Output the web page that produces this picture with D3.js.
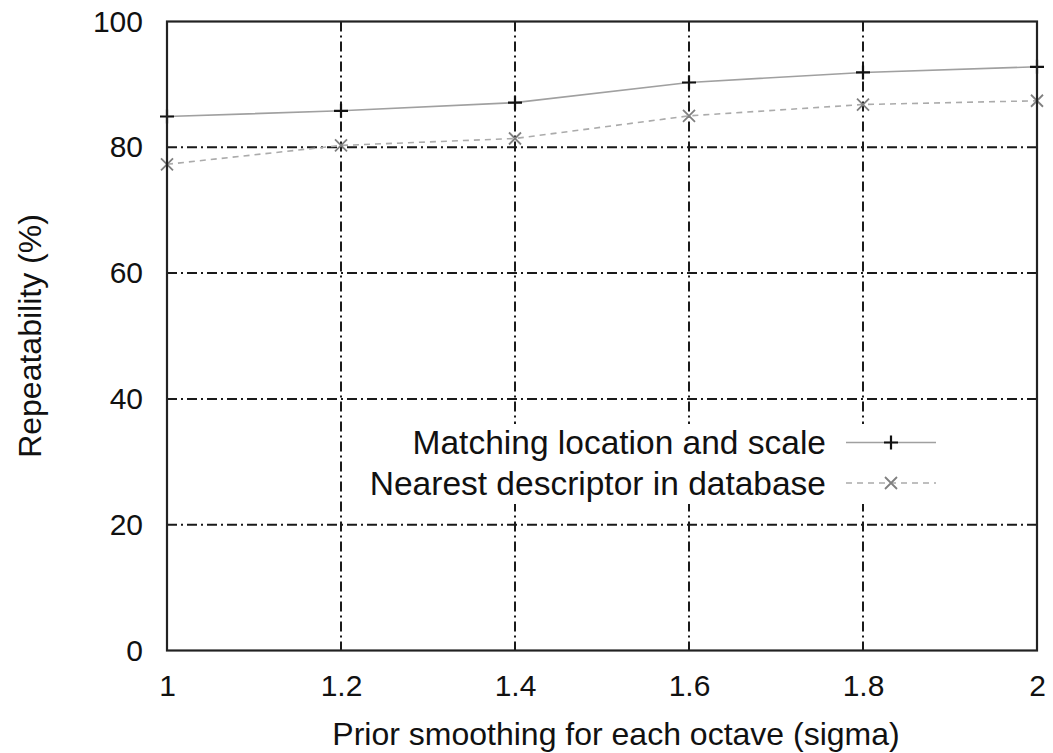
<!DOCTYPE html>
<html>
<head>
<meta charset="utf-8">
<script src="https://cdn.jsdelivr.net/npm/d3@7"></script>
<style>
  body { margin: 0; background: #fff; }
  text { font-family: "Liberation Sans", Arial, sans-serif; fill: #111; }
</style>
</head>
<body>
<div id="chart"></div>
<script>
// values
var sigma = [1, 1.2, 1.4, 1.6, 1.8, 2];
var matchingLocScale = [84.9, 85.8, 87.1, 90.3, 91.9, 92.8];
var nearestDescriptor = [77.3, 80.3, 81.4, 85.0, 86.8, 87.4];
var xTicks = [1, 1.2, 1.4, 1.6, 1.8, 2];
var yTicks = [0, 20, 40, 60, 80, 100];
var seriesNames = ["Matching location and scale", "Nearest descriptor in database"];

var W = 1053, H = 753;
var margin = {top: 21.5, right: 16, bottom: 102.5, left: 167};
var width = W - margin.left - margin.right,
    height = H - margin.top - margin.bottom;

var svg = d3.select("#chart").append("svg")
  .attr("width", W).attr("height", H)
  .append("g")
  .attr("transform", "translate(" + margin.left + "," + margin.top + ")");

var x = d3.scaleLinear().domain([1, 2]).range([0, width]);
var y = d3.scaleLinear().domain([0, 100]).range([height, 0]);

var gridDash = "10,4,2,4";

// grid lines (dash-dot, gnuplot style)
svg.append("g").selectAll("line.vg")
  .data(xTicks.slice(1, -1))
  .enter().append("line")
  .attr("x1", function(d) { return x(d); })
  .attr("x2", function(d) { return x(d); })
  .attr("y1", 0).attr("y2", height)
  .attr("stroke", "#1a1a1a").attr("stroke-width", 2)
  .attr("stroke-dasharray", gridDash);

svg.append("g").selectAll("line.hg")
  .data(yTicks.slice(1, -1))
  .enter().append("line")
  .attr("x1", 0).attr("x2", width)
  .attr("y1", function(d) { return y(d); })
  .attr("y2", function(d) { return y(d); })
  .attr("stroke", "#1a1a1a").attr("stroke-width", 2)
  .attr("stroke-dasharray", gridDash);

// legend box covers grid
var legendRight = 945, legendTop = 424;
svg.append("rect")
  .attr("x", 355 - margin.left).attr("y", legendTop - margin.top)
  .attr("width", legendRight - 355).attr("height", 80)
  .attr("fill", "#fff");

// axes with tick labels
var xAxis = d3.axisBottom(x).tickValues(xTicks).tickSize(0).tickPadding(24)
  .tickFormat(function(d) { return d3.format("~g")(d); });
svg.append("g")
  .attr("transform", "translate(0," + height + ")")
  .call(xAxis)
  .call(function(g) { g.select(".domain").remove(); })
  .selectAll("text")
  .style("font-size", "30px")
  .attr("fill", "#111");

var yAxis = d3.axisLeft(y).tickValues(yTicks).tickSize(0).tickPadding(24);
svg.append("g")
  .call(yAxis)
  .call(function(g) { g.select(".domain").remove(); })
  .selectAll("text")
  .style("font-size", "30px")
  .attr("fill", "#111");

// lines
var line1 = d3.line()
  .x(function(d, i) { return x(sigma[i]); })
  .y(function(d) { return y(d); });

svg.append("path")
  .datum(matchingLocScale)
  .attr("fill", "none")
  .attr("stroke", "#a0a0a0")
  .attr("stroke-width", 1.6)
  .attr("d", line1);

svg.append("path")
  .datum(nearestDescriptor)
  .attr("fill", "none")
  .attr("stroke", "#ababab")
  .attr("stroke-width", 1.6)
  .attr("stroke-dasharray", "6,5")
  .attr("d", line1);

function plusMark(g, cx, cy) {
  g.append("path")
    .attr("d", "M" + (cx - 7) + "," + cy + "H" + (cx + 7) + "M" + cx + "," + (cy - 7) + "V" + (cy + 7))
    .attr("stroke", "#111").attr("stroke-width", 2.2).attr("fill", "none");
}
function crossMark(g, cx, cy) {
  g.append("path")
    .attr("d", "M" + (cx - 6) + "," + (cy - 6) + "L" + (cx + 6) + "," + (cy + 6) +
               "M" + (cx - 6) + "," + (cy + 6) + "L" + (cx + 6) + "," + (cy - 6))
    .attr("stroke", "#808080").attr("stroke-width", 1.8).attr("fill", "none");
}

var marks = svg.append("g");
matchingLocScale.forEach(function(d, i) { plusMark(marks, x(sigma[i]), y(d)); });
nearestDescriptor.forEach(function(d, i) { crossMark(marks, x(sigma[i]), y(d)); });

// frame
svg.append("rect")
  .attr("x", 0).attr("y", 0)
  .attr("width", width).attr("height", height)
  .attr("fill", "none")
  .attr("stroke", "#222").attr("stroke-width", 2.2);

// legend
var lg = svg.append("g");
var rowsY = [442.5, 483];
seriesNames.forEach(function(name, i) {
  var ly = rowsY[i] - margin.top;
  lg.append("text")
    .attr("x", 826 - margin.left).attr("y", ly)
    .attr("dy", "0.35em")
    .attr("text-anchor", "end")
    .style("font-size", "33.5px")
    .text(name);
  var l = lg.append("line")
    .attr("x1", 846 - margin.left).attr("x2", 936 - margin.left)
    .attr("y1", ly).attr("y2", ly)
    .attr("stroke", i === 0 ? "#a0a0a0" : "#ababab")
    .attr("stroke-width", 1.6);
  if (i === 1) l.attr("stroke-dasharray", "6,5");
  if (i === 0) plusMark(lg, 891 - margin.left, ly);
  else crossMark(lg, 891 - margin.left, ly);
});

// axis titles
svg.append("text")
  .attr("x", 616 - margin.left).attr("y", 745 - margin.top)
  .attr("text-anchor", "middle")
  .style("font-size", "32px")
  .text("Prior smoothing for each octave (sigma)");

svg.append("text")
  .attr("transform", "translate(" + (41 - margin.left) + "," + (336 - margin.top) + ") rotate(-90)")
  .attr("text-anchor", "middle")
  .style("font-size", "32px")
  .text("Repeatability (%)");
</script>
</body>
</html>
